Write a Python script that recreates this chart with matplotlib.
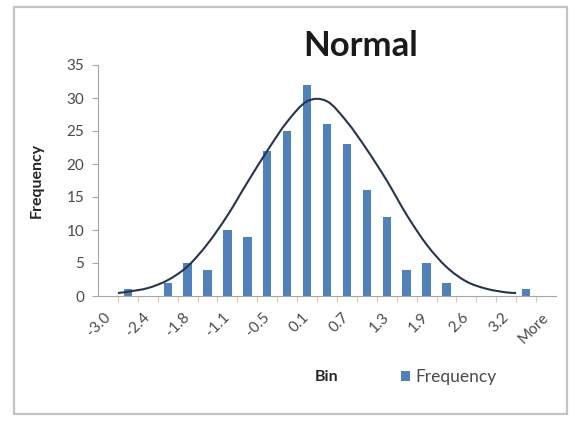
import numpy as np
import matplotlib.pyplot as plt
from matplotlib.path import Path
from matplotlib.patches import PathPatch, Rectangle
from matplotlib.ticker import MultipleLocator

# histogram bins (upper bounds) and counts
bins = ["-3.0", "-2.7", "-2.4", "-2.1", "-1.8", "-1.4", "-1.1", "-0.8",
        "-0.5", "-0.2", "0.1", "0.4", "0.7", "1.0", "1.3", "1.6",
        "1.9", "2.3", "2.6", "2.9", "3.2", "3.5", "More"]
frequency = [0, 1, 0, 2, 5, 4, 10, 9, 22, 25, 32, 26, 23, 16, 12, 4,
             5, 2, 0, 0, 0, 1, 0]

# fitted normal curve, in bin-index units
curve_x = [0.5, 1, 2, 3, 4, 5, 6, 7, 8, 9, 10, 11, 12, 13, 14, 15, 16,
           17, 18, 19, 20, 20.5]
curve_y = [0.45, 0.65, 1.2, 2.4, 4.5, 7.9, 12.2, 17.2, 22.0, 26.4, 29.5,
           29.5, 26.4, 22.2, 17.5, 12.3, 7.8, 4.4, 2.2, 1.1, 0.55, 0.45]

BAR = "#4f81bd"
LINE = "#26354d"
GREY = "#4a4a4a"
AXIS = "#a6a6a6"

plt.rcParams["font.family"] = ["Lato", "DejaVu Sans"]


def smooth_path(xs, ys):
    # cubic bezier through the points, like a smoothed line series
    xs = np.asarray(xs, float)
    ys = np.asarray(ys, float)
    n = len(xs)
    m = np.zeros(n)
    m[0] = (ys[1] - ys[0]) / (xs[1] - xs[0])
    m[-1] = (ys[-1] - ys[-2]) / (xs[-1] - xs[-2])
    for i in range(1, n - 1):
        m[i] = (ys[i + 1] - ys[i - 1]) / (xs[i + 1] - xs[i - 1])
    verts = [(xs[0], ys[0])]
    codes = [Path.MOVETO]
    for i in range(n - 1):
        h = xs[i + 1] - xs[i]
        verts.append((xs[i] + h / 3, ys[i] + m[i] * h / 3))
        verts.append((xs[i + 1] - h / 3, ys[i + 1] - m[i + 1] * h / 3))
        verts.append((xs[i + 1], ys[i + 1]))
        codes += [Path.CURVE4] * 3
    return Path(verts, codes)


fig = plt.figure(figsize=(5.81, 4.21), dpi=100)
fig.patches.append(Rectangle((14 / 581, 7 / 421), 553 / 581, 407 / 421,
                             transform=fig.transFigure, fill=False,
                             edgecolor="#c4c4c4", linewidth=1.6))

ax = fig.add_axes([98 / 581, 125 / 421, 458 / 581, 231 / 421])
pos = np.arange(len(bins))
bars = ax.bar(pos, frequency, width=0.42, color=BAR, label="Frequency", zorder=2)
ax.add_patch(PathPatch(smooth_path(curve_x, curve_y), fill=False,
                       edgecolor=LINE, linewidth=1.5, zorder=3))

ax.set_xlim(-0.5, len(bins) - 0.5)
ax.set_ylim(0, 35)
ax.yaxis.set_major_locator(MultipleLocator(5))

ax.set_xticks(pos[::2])
ax.set_xticklabels(bins[::2], rotation=45, ha="right", va="center",
                   rotation_mode="anchor")
ax.set_xticks(pos[:-1] + 0.5, minor=True)
ax.tick_params(axis="x", which="major", length=0, pad=14, labelsize=11,
               labelcolor=GREY)
ax.tick_params(axis="x", which="minor", length=4, color="#e8c8a8", width=0.8)
ax.tick_params(axis="y", length=4, color=AXIS, width=0.8, labelsize=11,
               labelcolor=GREY, pad=6)

for s in ["top", "right"]:
    ax.spines[s].set_visible(False)
for s in ["left", "bottom"]:
    ax.spines[s].set_color(AXIS)
    ax.spines[s].set_linewidth(0.8)

ax.set_ylabel("Frequency", fontsize=11.5, fontweight="bold", color="#262626")
ax.yaxis.set_label_coords(-0.118, 0.5)

fig.text(361 / 581, 1 - 46 / 421, "Normal", fontsize=25, fontweight="bold",
         ha="center", va="center", color="#1a1a1a")
fig.text(327 / 581, 1 - 377 / 421, "Bin", fontsize=11.5, fontweight="bold",
         ha="center", va="center", color="#262626")
fig.legend(handles=[bars], loc="center left",
           bbox_to_anchor=(401 / 581, 1 - 377 / 421), frameon=False,
           handlelength=0.5, handleheight=0.5, handletextpad=0.3,
           fontsize=12.5, labelcolor=GREY, borderpad=0, borderaxespad=0)

fig.savefig("out.png", dpi=100)
